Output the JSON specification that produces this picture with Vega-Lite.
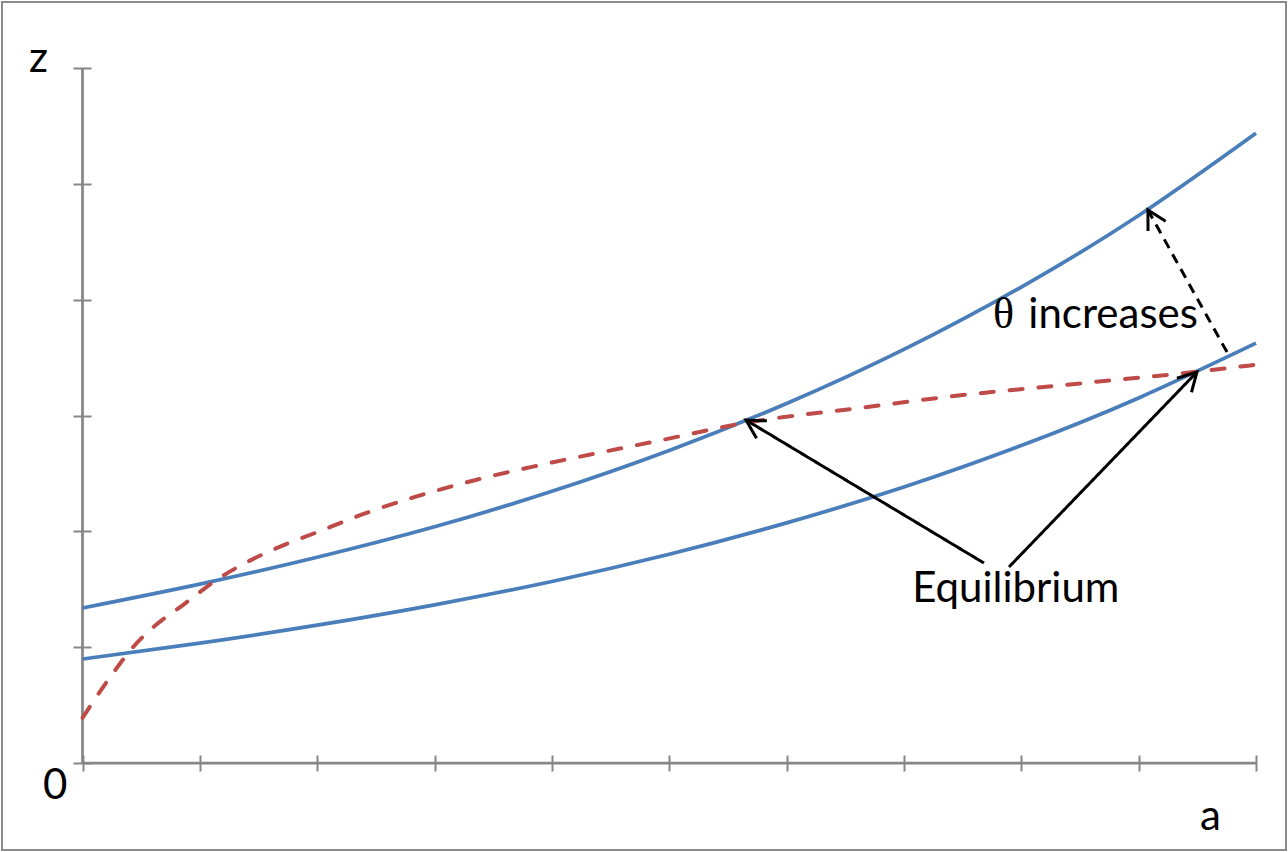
{
  "$schema": "https://vega.github.io/schema/vega-lite/v6.json",
  "width": 1284,
  "height": 848,
  "padding": 2,
  "autosize": {"type": "none"},
  "background": "white",
  "config": {
    "view": {"stroke": "#8c8c8c", "strokeWidth": 2},
    "font": "Lato"
  },
  "datasets": {
    "curves": [
      {"series": "upper", "a": 0, "z": 1.339},
      {"series": "upper", "a": 1, "z": 1.545},
      {"series": "upper", "a": 2, "z": 1.777},
      {"series": "upper", "a": 3, "z": 2.04},
      {"series": "upper", "a": 4, "z": 2.347},
      {"series": "upper", "a": 5, "z": 2.7},
      {"series": "upper", "a": 6, "z": 3.105},
      {"series": "upper", "a": 7, "z": 3.572},
      {"series": "upper", "a": 8, "z": 4.111},
      {"series": "upper", "a": 9, "z": 4.729},
      {"series": "upper", "a": 10, "z": 5.44},
      {"series": "lower", "a": 0, "z": 0.898},
      {"series": "lower", "a": 1, "z": 1.035},
      {"series": "lower", "a": 2, "z": 1.19},
      {"series": "lower", "a": 3, "z": 1.366},
      {"series": "lower", "a": 4, "z": 1.568},
      {"series": "lower", "a": 5, "z": 1.803},
      {"series": "lower", "a": 6, "z": 2.074},
      {"series": "lower", "a": 7, "z": 2.384},
      {"series": "lower", "a": 8, "z": 2.742},
      {"series": "lower", "a": 9, "z": 3.153},
      {"series": "lower", "a": 10, "z": 3.626},
      {"series": "red", "a": 0, "z": 0.39},
      {"series": "red", "a": 0.27, "z": 0.79},
      {"series": "red", "a": 0.43, "z": 1.0},
      {"series": "red", "a": 0.6, "z": 1.17},
      {"series": "red", "a": 0.85, "z": 1.36},
      {"series": "red", "a": 1.14, "z": 1.58},
      {"series": "red", "a": 1.43, "z": 1.75},
      {"series": "red", "a": 1.71, "z": 1.88},
      {"series": "red", "a": 1.99, "z": 1.99},
      {"series": "red", "a": 2.42, "z": 2.16},
      {"series": "red", "a": 2.84, "z": 2.3},
      {"series": "red", "a": 3.41, "z": 2.46},
      {"series": "red", "a": 3.84, "z": 2.56},
      {"series": "red", "a": 4.94, "z": 2.79},
      {"series": "red", "a": 5.66, "z": 2.94},
      {"series": "red", "a": 6.65, "z": 3.07},
      {"series": "red", "a": 7.39, "z": 3.165},
      {"series": "red", "a": 8.52, "z": 3.28},
      {"series": "red", "a": 9.5, "z": 3.38},
      {"series": "red", "a": 10, "z": 3.44}
    ],
    "axislines": [
      {"a": 0, "z": 0, "a2": 10, "z2": 0},
      {"a": 0, "z": 0, "a2": 0, "z2": 6}
    ],
    "arrows": [
      {"kind": "equilibrium", "a": 7.682, "z": 1.727, "a2": 5.654, "z2": 2.962},
      {"kind": "equilibrium", "a": 7.895, "z": 1.693, "a2": 9.497, "z2": 3.377},
      {"kind": "shift", "a": 9.753, "z": 3.549, "a2": 9.079, "z2": 4.776}
    ],
    "labels": [
      {"label": "z", "a": -0.456, "z": 5.968},
      {"label": "0", "a": -0.337, "z": -0.311},
      {"label": "a", "a": 9.523, "z": -0.579},
      {"label": "Equilibrium", "a": 7.07, "z": 1.391},
      {"label": "increases", "a": 8.06, "z": 3.757}
    ],
    "greek": [
      {"label": "θ", "a": 7.759, "z": 3.757}
    ]
  },
  "layer": [
    {
      "data": {"name": "axislines"},
      "mark": {"type": "rule", "color": "#868686", "strokeWidth": 2.75},
      "encoding": {
        "x": {
          "field": "a", "type": "quantitative",
          "scale": {"domain": [-0.686, 10.2557], "nice": false, "zero": false},
          "axis": {
            "orient": "bottom", "offset": -95, "domain": false, "labels": false, "grid": false,
            "title": null, "values": [0, 1, 2, 3, 4, 5, 6, 7, 8, 9, 10],
            "tickSize": 16, "tickWidth": 2, "tickColor": "#868686"
          }
        },
        "y": {
          "field": "z", "type": "quantitative",
          "scale": {"domain": [-0.7514, 6.5728], "nice": false, "zero": false},
          "axis": {
            "orient": "left", "offset": -89, "domain": false, "labels": false, "grid": false,
            "title": null, "values": [0, 1, 2, 3, 4, 5, 6],
            "tickSize": 18, "tickWidth": 2, "tickColor": "#868686"
          }
        },
        "x2": {"field": "a2"},
        "y2": {"field": "z2"}
      }
    },
    {
      "data": {"name": "curves"},
      "transform": [{"filter": "datum.series !== 'red'"}],
      "mark": {"type": "line", "color": "#4A7EBB", "strokeWidth": 3.75, "interpolate": "natural"},
      "encoding": {
        "x": {"field": "a", "type": "quantitative"},
        "y": {"field": "z", "type": "quantitative"},
        "detail": {"field": "series"}
      }
    },
    {
      "data": {"name": "curves"},
      "transform": [{"filter": "datum.series === 'red'"}],
      "mark": {"type": "line", "color": "#BE4B48", "strokeWidth": 4, "strokeDash": [13, 16], "strokeCap": "round", "interpolate": "monotone"},
      "encoding": {
        "x": {"field": "a", "type": "quantitative"},
        "y": {"field": "z", "type": "quantitative"}
      }
    },
    {
      "data": {"name": "arrows"},
      "mark": {"type": "rule", "color": "black", "strokeWidth": 3},
      "encoding": {
        "x": {"field": "a", "type": "quantitative"},
        "y": {"field": "z", "type": "quantitative"},
        "x2": {"field": "a2"},
        "y2": {"field": "z2"},
        "strokeDash": {
          "field": "kind", "type": "nominal",
          "scale": {"domain": ["equilibrium", "shift"], "range": [[1, 0], [10, 7]]},
          "legend": null
        }
      }
    },
    {
      "data": {"name": "arrows"},
      "transform": [
        {"calculate": "atan2(-(datum.z2 - datum.z) * 115.78, (datum.a2 - datum.a) * 117.35) * 180 / PI", "as": "ang"}
      ],
      "mark": {
        "type": "point", "shape": "M -1 -0.55 L 0 0 L -1 0.55", "filled": false,
        "stroke": "black", "strokeWidth": 3, "opacity": 1, "size": 1350
      },
      "encoding": {
        "x": {"field": "a2", "type": "quantitative"},
        "y": {"field": "z2", "type": "quantitative"},
        "angle": {"field": "ang", "type": "quantitative", "scale": null}
      }
    },
    {
      "data": {"name": "labels"},
      "mark": {"type": "text", "font": "Lato", "fontSize": 42, "align": "left", "baseline": "alphabetic", "color": "black"},
      "encoding": {
        "x": {"field": "a", "type": "quantitative"},
        "y": {"field": "z", "type": "quantitative"},
        "text": {"field": "label"}
      }
    },
    {
      "data": {"name": "greek"},
      "mark": {"type": "text", "font": "Liberation Serif", "fontSize": 44, "align": "left", "baseline": "alphabetic", "color": "black"},
      "encoding": {
        "x": {"field": "a", "type": "quantitative"},
        "y": {"field": "z", "type": "quantitative"},
        "text": {"field": "label"}
      }
    }
  ]
}
